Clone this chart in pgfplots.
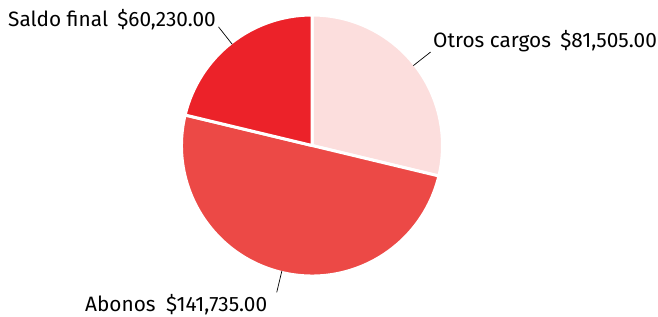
\documentclass[border=0pt]{standalone}
\usepackage{pgfplots}
\usepackage{pgfplotstable}
\pgfplotsset{compat=1.18}
\usepackage{fontspec}
\setmainfont{Fira Sans}
\definecolor{cOtros}{HTML}{FCDEDD}
\definecolor{cAbonos}{HTML}{EC4946}
\definecolor{cSaldo}{HTML}{EC2229}
\pgfplotstableread{
name value
Otros 81505
Abonos 141735
Saldo 60230
}\piedata
\begin{document}
\begin{tikzpicture}
\pgfplotstablegetelem{0}{value}\of\piedata \edef\vA{\pgfplotsretval}
\pgfplotstablegetelem{1}{value}\of\piedata \edef\vB{\pgfplotsretval}
\pgfplotstablegetelem{2}{value}\of\piedata \edef\vC{\pgfplotsretval}
\edef\tot{\fpeval{\vA+\vB+\vC}}
\edef\aA{\fpeval{90-360*\vA/\tot}}
\edef\aB{\fpeval{\aA-360*\vB/\tot}}
\edef\aC{\fpeval{\aB-360*\vC/\tot}}
\edef\mA{\fpeval{(90+\aA)/2}}
\edef\mB{\fpeval{(\aA+\aB)/2}}
\edef\mC{\fpeval{(\aB+\aC)/2}}
\begin{axis}[hide axis, x=1pt, y=1pt, xmin=0, xmax=658, ymin=0, ymax=316,
  scale only axis, clip=false]
\path (axis cs:0,0) rectangle (axis cs:658,316);
\fill[cOtros, draw=white, line width=3pt, line join=round]
  (axis cs:312,170.5) -- ++(90:130.5pt) arc[start angle=90, end angle=\aA, radius=130.5pt] -- cycle;
\fill[cAbonos, draw=white, line width=3pt, line join=round]
  (axis cs:312,170.5) -- ++(\aA:130.5pt) arc[start angle=\aA, end angle=\aB, radius=130.5pt] -- cycle;
\fill[cSaldo, draw=white, line width=3pt, line join=round]
  (axis cs:312,170.5) -- ++(\aB:130.5pt) arc[start angle=\aB, end angle=\aC, radius=130.5pt] -- cycle;
\draw[black, line width=0.7pt] (axis cs:312,170.5) ++(\mA:129pt) -- ++(\mA:22pt);
\draw[black, line width=0.7pt] (axis cs:312,170.5) ++(\mB:129pt) -- ++(\mB:22pt);
\draw[black, line width=0.7pt] (axis cs:312,170.5) ++(\mC:129pt) -- ++(\mC:22pt);
\node[anchor=base east, inner sep=0pt, font=\fontsize{20.8}{24}\selectfont] at (axis cs:216,289) {Saldo final\hspace{0.45em}\$60,230.00};
\node[anchor=base west, inner sep=0pt, font=\fontsize{20.8}{24}\selectfont] at (axis cs:433,268) {Otros cargos\hspace{0.45em}\$81,505.00};
\node[anchor=base west, inner sep=0pt, font=\fontsize{20.8}{24}\selectfont] at (axis cs:85,5) {Abonos\hspace{0.5em}\$141,735.00};
\end{axis}
\end{tikzpicture}
\end{document}
